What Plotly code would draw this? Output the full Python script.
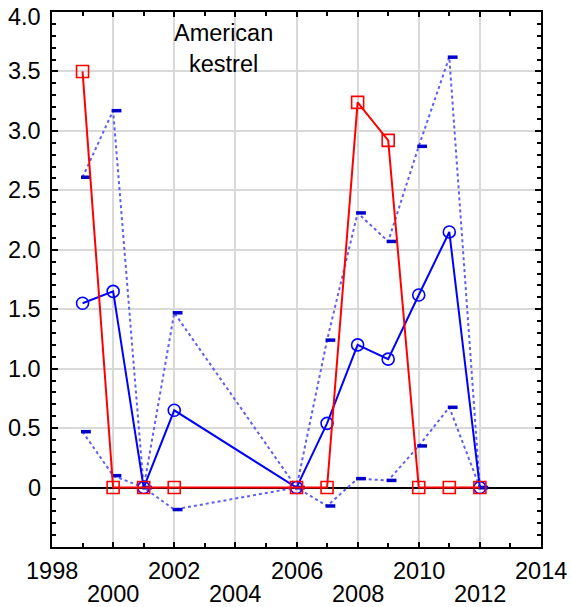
import plotly.graph_objects as go

years = [1999, 2000, 2001, 2002, 2006, 2007, 2008, 2009, 2010, 2011, 2012]
mean_vals = [1.55, 1.65, 0.0, 0.65, 0.0, 0.54, 1.20, 1.08, 1.62, 2.15, 0.0]
upper_ci = [2.61, 3.17, 0.0, 1.47, 0.0, 1.24, 2.31, 2.07, 2.87, 3.62, 0.0]
lower_ci = [0.47, 0.10, 0.0, -0.185, 0.0, -0.155, 0.075, 0.06, 0.35, 0.675, 0.0]
red_vals = [3.5, 0.0, 0.0, 0.0, 0.0, 0.0, 3.24, 2.92, 0.0, 0.0, 0.0]

y_tickvals = [0, 0.5, 1.0, 1.5, 2.0, 2.5, 3.0, 3.5, 4.0]
y_ticktext = ["0", "0.5", "1.0", "1.5", "2.0", "2.5", "3.0", "3.5", "4.0"]
x_row1 = [1998, 2002, 2006, 2010, 2014]
x_row2 = [2000, 2004, 2008, 2012]
label_text = "American<br>kestrel"

FONT = "Liberation Sans, Arial, sans-serif"
FS = 23.5
dot_color = "rgb(95,95,240)"
dash_color = "rgb(0,0,205)"
marker_offset = 0.11

fig = go.Figure()

for ci in (upper_ci, lower_ci):
    fig.add_trace(go.Scatter(x=years, y=ci, mode="lines",
                             line=dict(color=dot_color, width=2, dash="dot"),
                             hoverinfo="skip", showlegend=False))
    fig.add_trace(go.Scatter(x=[y + marker_offset for y in years], y=ci, mode="markers",
                             marker=dict(symbol="line-ew", size=7,
                                         line=dict(color=dash_color, width=3.5)),
                             showlegend=False))

fig.add_trace(go.Scatter(x=years, y=mean_vals, mode="lines+markers",
                         line=dict(color="rgb(0,0,255)", width=2),
                         marker=dict(symbol="circle-open", size=12,
                                     line=dict(color="rgb(0,0,255)", width=1.6)),
                         showlegend=False))
fig.add_trace(go.Scatter(x=years, y=red_vals, mode="lines+markers",
                         line=dict(color="rgb(255,0,0)", width=2),
                         marker=dict(symbol="square-open", size=12,
                                     line=dict(color="rgb(255,0,0)", width=1.6)),
                         showlegend=False))

# staggered x tick labels
for vals, shift in ((x_row1, -24), (x_row2, -47)):
    for v in vals:
        fig.add_annotation(x=v, y=0, xref="x", yref="paper", text=str(v),
                           showarrow=False, yanchor="middle", yshift=shift,
                           font=dict(family=FONT, size=FS, color="black"))

# y tick labels
ymax = max(y_tickvals)
for v, t in zip(y_tickvals, y_ticktext):
    fig.add_annotation(x=0, y=v, xref="paper", yref="y", text=t,
                       showarrow=False, xanchor="right", yanchor="middle",
                       xshift=-9, yshift=(-5 if v == ymax else 0),
                       font=dict(family=FONT, size=FS, color="black"))

fig.add_annotation(x=2003.6, y=3.69, xref="x", yref="y", text=label_text,
                   showarrow=False, align="center",
                   font=dict(family=FONT, size=FS, color="black"))

fig.update_layout(
    width=571, height=607,
    margin=dict(l=52, r=30, t=12, b=60, autoexpand=False),
    paper_bgcolor="white", plot_bgcolor="white",
    font=dict(family=FONT, size=FS, color="black"),
    xaxis=dict(range=[1998, 2014], tickvals=[1998, 2000, 2002, 2004, 2006, 2008, 2010, 2012, 2014],
               showticklabels=False, showgrid=True, gridcolor="rgb(217,217,217)", gridwidth=2,
               showline=True, linecolor="black", linewidth=2, mirror="ticks",
               ticks="inside", ticklen=5, tickwidth=1.5, tickcolor="black",
               minor=dict(dtick=1, tick0=1998, ticks="inside", ticklen=4, tickwidth=1.5,
                          tickcolor="black", showgrid=False),
               zeroline=False, automargin=False),
    yaxis=dict(range=[-0.5, 4.0], tickvals=[-0.5] + y_tickvals,
               showticklabels=False,
               showgrid=True, gridcolor="rgb(217,217,217)", gridwidth=2,
               showline=True, linecolor="black", linewidth=2, mirror="ticks",
               ticks="inside", ticklen=6, tickwidth=1.5, tickcolor="black",
               automargin=False,
               minor=dict(dtick=0.1, tick0=0, ticks="inside", ticklen=4, tickwidth=1.5,
                          tickcolor="black", showgrid=False),
               zeroline=True, zerolinecolor="black", zerolinewidth=1.5),
)

fig.write_html("out.html", config={"displayModeBar": False},
               post_script="document.body.style.margin='0';")
